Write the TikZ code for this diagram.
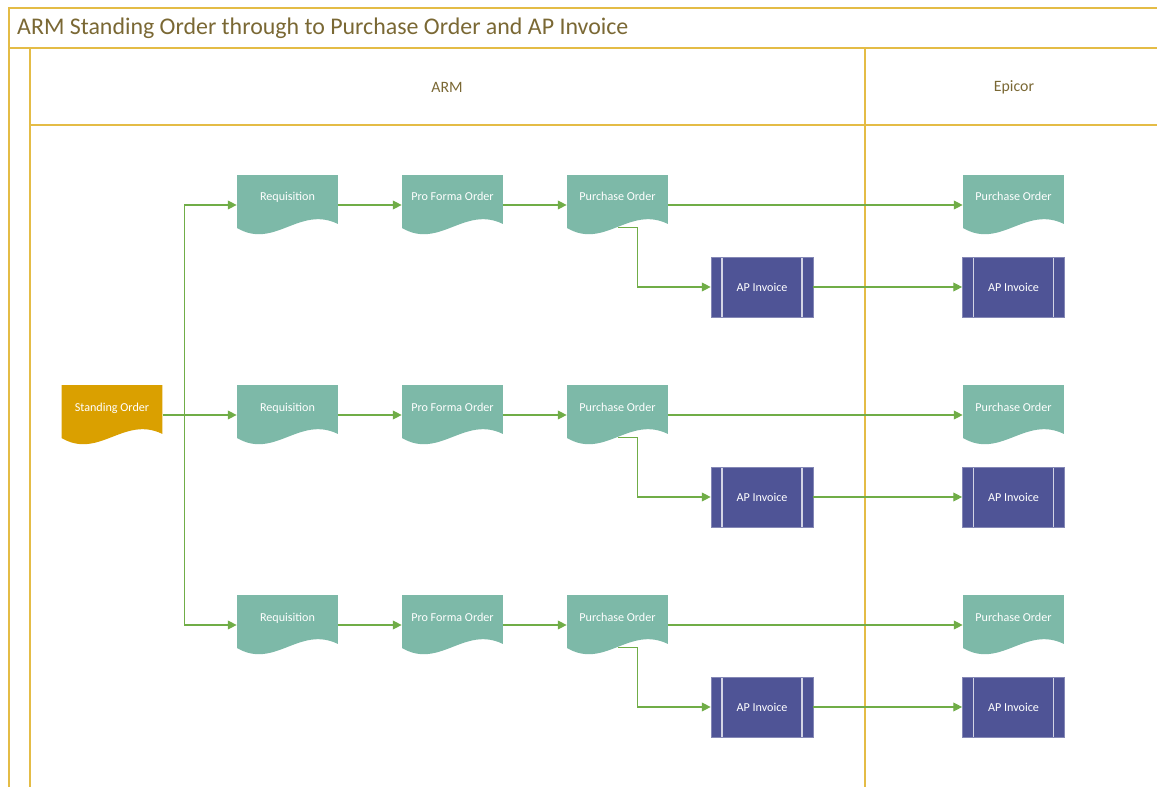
\documentclass[tikz,border=0pt]{standalone}
\usepackage{fontspec}
\setmainfont{Carlito}
\usetikzlibrary{arrows.meta}
\definecolor{armteal}{RGB}{125,185,168}
\definecolor{armnavy}{RGB}{79,84,150}
\definecolor{armgold}{RGB}{218,160,0}
\definecolor{armgreen}{RGB}{112,173,71}
\definecolor{armframe}{RGB}{228,188,70}
\definecolor{armtext}{RGB}{122,104,52}

\tikzset{
  docbox/.style={rectangle, fill=white, minimum width=2.02cm, minimum height=1.2cm, inner sep=0pt,
    text=white, font=\fontsize{6.9}{8}\selectfont, text height=0.14cm, text depth=0.3cm,
    path picture={
      \fill[#1] (path picture bounding box.north west) -- (path picture bounding box.north east)
        -- ([yshift=0.22cm]path picture bounding box.south east)
        .. controls ([shift={(1.25cm,0.6cm)}]path picture bounding box.south west)
        and ([shift={(0.75cm,-0.3cm)}]path picture bounding box.south west)
        .. ([yshift=0.14cm]path picture bounding box.south west) -- cycle;
    }},
  procbox/.style={rectangle, fill=armnavy, draw=armnavy!70!white, minimum width=2.04cm, minimum height=1.2cm,
    inner sep=0pt, text=white, font=\fontsize{6.9}{8}\selectfont,
    path picture={
      \draw[white!75!armnavy, line width=0.7pt]
        ([xshift=0.22cm]path picture bounding box.north west) -- ([xshift=0.22cm]path picture bounding box.south west)
        ([xshift=-0.22cm]path picture bounding box.north east) -- ([xshift=-0.22cm]path picture bounding box.south east);
    }},
  flow/.style={armgreen, line width=0.6pt, -{Triangle[length=5pt,width=5pt]}},
  lane/.style={armframe, line width=0.9pt},
  lanetitle/.style={text=armtext, font=\fontsize{9}{11}\selectfont}
}

\begin{document}
\begin{tikzpicture}[x=0.02cm, y=-0.02cm]
  \useasboundingbox (0,0) rectangle (1157,787);

  % Swimlane frame
  \draw[lane] (1157,8) -- (9,8) -- (9,787);
  \draw[lane] (9,48) -- (1157,48);
  \draw[lane] (30,48) -- (30,787);
  \draw[lane] (30,125) -- (1157,125);
  \draw[lane] (865,48) -- (865,787);

  % Titles
  \node[anchor=west, text=armtext, font=\fontsize{13.6}{16}\selectfont] (title) at (11,28)
    {ARM Standing Order through to Purchase Order and AP Invoice};
  \node[lanetitle] (armlane) at (447,87) {ARM};
  \node[lanetitle] (epicorlane) at (1014,87) {Epicor};

  % Standing order
  \node[docbox=armgold] (so) at (112,415) {Standing Order};

  % One row per requisition
  \foreach \r/\y in {1/205, 2/415, 3/625} {
    \node[docbox=armteal] (req\r) at (287.5,\y) {Requisition};
    \node[docbox=armteal] (pf\r) at (452.5,\y) {Pro Forma Order};
    \node[docbox=armteal] (po\r) at (617.5,\y) {Purchase Order};
    \node[procbox] (ap\r) at (762,\y+82) {AP Invoice};
    \node[docbox=armteal] (epo\r) at (1013.5,\y) {Purchase Order};
    \node[procbox] (eap\r) at (1013.5,\y+82) {AP Invoice};

    \draw[flow] (req\r.east) -- (pf\r.west);
    \draw[flow] (pf\r.east) -- (po\r.west);
    \draw[flow] (po\r.east) -- (epo\r.west);
    \draw[flow] ([yshift=0.15cm]po\r.south) -- ++(20,0) |- (ap\r.west);
    \draw[flow] (ap\r.east) -- (eap\r.west);
  }

  % Split from standing order
  \draw[flow] (so.east) -- (req2.west);
  \draw[flow] (so.east) -- ++(22,0) |- (req1.west);
  \draw[flow] (so.east) -- ++(22,0) |- (req3.west);
\end{tikzpicture}
\end{document}
